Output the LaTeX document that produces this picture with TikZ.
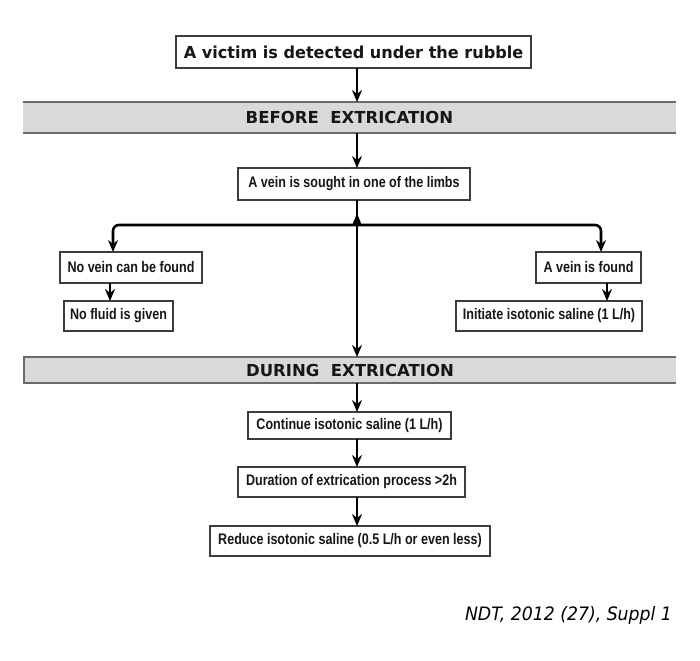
\documentclass[tikz,border=0pt]{standalone}
\usepackage{fontspec}
\usetikzlibrary{arrows.meta}

% Fonts
\newfontfamily\titlefont[FakeStretch=0.975]{DejaVu Sans}
\newfontfamily\bandfont{DejaVu Sans}
\newfontfamily\boxfont[FakeStretch=0.82]{Liberation Sans}
\newfontfamily\citefont[FakeStretch=0.935]{DejaVu Sans Oblique}

% Colours
\definecolor{ink}{HTML}{161616}
\definecolor{boxline}{HTML}{3C3C3C}
\definecolor{bandfill}{HTML}{D9D9D9}
\definecolor{bandline}{HTML}{6A6A6A}

\begin{document}
\begin{tikzpicture}[x=1pt,y=-1pt,
  every node/.style={inner sep=0pt, outer sep=0pt, text=ink},
  titlebox/.style={draw=boxline, line width=1.6pt, fill=white,
    font={\titlefont\bfseries\fontsize{16.5}{18}\selectfont}},
  stepbox/.style={draw=boxline, line width=1.5pt, fill=white,
    font={\boxfont\bfseries\fontsize{15.3}{17}\selectfont}},
  band/.style={fill=bandfill,
    font={\bandfont\bfseries\fontsize{16.5}{18}\selectfont}},
  bandedge/.style={draw=bandline, line width=2pt},
  tip/.style={-{Stealth[length=12pt,width=10pt,inset=4pt]}},
  arr/.style={draw=black, line width=2pt, tip},
  branch/.style={draw=black, line width=2.6pt, rounded corners=6pt, tip},
  wedge/.style={draw=black, line width=2pt, -{Triangle[length=11pt,width=8pt]}},
]
\path[use as bounding box] (0,0) rectangle (700,660);

% Vertical guide columns for the connectors
\coordinate (colM) at (357,0);
\coordinate (colL) at (113,0);
\coordinate (colR) at (601,0);
\coordinate (colLs) at (110,0);
\coordinate (colRs) at (607,0);

% Title box
\node[titlebox, minimum width=355pt, minimum height=32pt] (victim) at (353.5,52)
  {A victim is detected under the rubble};

% Phase bands
\node[band, minimum width=653pt, minimum height=31pt] (before) at (349.5,117.5)
  {BEFORE\ \ EXTRICATION};
\draw[bandedge] (before.north west) -- (before.north east);
\draw[bandedge] (before.south west) -- (before.south east);

\node[band, minimum width=652pt, minimum height=26pt] (during) at (350,370)
  {DURING\ \ EXTRICATION};
\draw[bandedge] (during.south east) -- (during.south west) -- (during.north west) -- (during.north east);

% Steps before extrication
\node[stepbox, minimum width=232pt, minimum height=32pt] (seek) at (354,184)
  {A vein is sought in one of the limbs};
\node[stepbox, minimum width=142pt, minimum height=31pt] (novein) at (131,267.5)
  {No vein can be found};
\node[stepbox, minimum width=109pt, minimum height=30pt] (nofluid) at (118.5,316)
  {No fluid is given};
\node[stepbox, minimum width=105pt, minimum height=31pt] (found) at (588.5,267.5)
  {A vein is found};
\node[stepbox, minimum width=186pt, minimum height=30pt] (initiate) at (549,316)
  {Initiate isotonic saline (1 L/h)};

% Steps during extrication
\node[stepbox, minimum width=203pt, minimum height=27pt] (cont) at (349.5,425.5)
  {Continue isotonic saline (1 L/h)};
\node[stepbox, minimum width=227pt, minimum height=30pt] (dur) at (351.5,482)
  {Duration of extrication process >2h};
\node[stepbox, minimum width=280pt, minimum height=30pt] (reduce) at (350,541)
  {Reduce isotonic saline (0.5 L/h or even less)};

% Source line
\node[anchor=east, text=black, font={\citefont\fontsize{18.5}{20}\selectfont}] (cite) at (672,615)
  {NDT, 2012 (27), Suppl 1};

% Connectors
\coordinate (split) at (357,225);
\draw[arr] (victim.south -| colM) -- (before.north -| colM);
\draw[arr] (before.south -| colM) -- (seek.north -| colM);
\draw[arr] (seek.south -| colM) -- (during.north -| colM);
\draw[wedge] (split) -- ++(0,-12);
\draw[branch] (split) -| (novein.north -| colL);
\draw[branch] (split) -| (found.north -| colR);
\draw[arr] (novein.south -| colLs) -- (nofluid.north -| colLs);
\draw[arr] (found.south -| colRs) -- (initiate.north -| colRs);
\draw[arr] (during.south -| colM) -- (cont.north -| colM);
\draw[arr] (cont.south -| colM) -- (dur.north -| colM);
\draw[arr] (dur.south -| colM) -- (reduce.north -| colM);
\end{tikzpicture}
\end{document}
